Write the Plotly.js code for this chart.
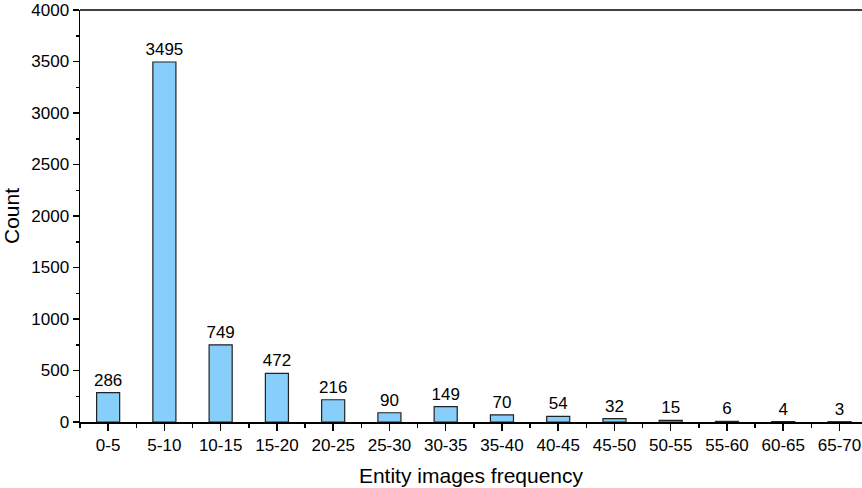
<!DOCTYPE html>
<html>
<head>
<meta charset="utf-8">
<script src="https://cdn.plot.ly/plotly-3.0.1.min.js"></script>
<style>html,body{margin:0;padding:0;background:#fff;}#chart{width:862px;height:488px;}</style>
</head>
<body>
<div id="chart"></div>
<script>
const categories = ["0-5","5-10","10-15","15-20","20-25","25-30","30-35","35-40","40-45","45-50","50-55","55-60","60-65","65-70"];
const counts = [286, 3495, 749, 472, 216, 90, 149, 70, 54, 32, 15, 6, 4, 3];
const yTicks = [0, 500, 1000, 1500, 2000, 2500, 3000, 3500, 4000];

const positions = categories.map((_, i) => i);
const font = "Liberation Sans, Arial, sans-serif";

const trace = {
  type: "bar",
  x: positions,
  y: counts,
  width: 0.41,
  marker: { color: "#87CEFA", line: { color: "#222", width: 1.2 } },
  text: counts.map(String),
  textposition: "outside",
  constraintext: "none",
  textfont: { family: font, size: 17, color: "#000" },
  cliponaxis: false,
  hoverinfo: "x+y"
};

const layout = {
  width: 862, height: 488,
  margin: { l: 80, r: 0, t: 10, b: 66 },
  paper_bgcolor: "#fff", plot_bgcolor: "#fff",
  showlegend: false,
  font: { family: font, size: 17, color: "#000" },
  xaxis: {
    type: "linear",
    range: [-0.5, 13.4],
    tickvals: positions,
    ticktext: categories,
    ticks: "outside", ticklen: 7, tickwidth: 1.5, tickcolor: "#000",
    minor: { tick0: 0.5, dtick: 1, ticks: "outside", ticklen: 4, tickwidth: 1.5, tickcolor: "#000", showgrid: false },
    showline: true, linecolor: "#000", linewidth: 1.5,
    showgrid: false, zeroline: false,
    tickfont: { family: font, size: 17, color: "#000" },
    title: { text: "Entity images frequency", font: { family: font, size: 21, color: "#000" }, standoff: 14 }
  },
  yaxis: {
    range: [0, 4000],
    tickvals: yTicks,
    ticks: "outside", ticklen: 6, tickwidth: 1.5, tickcolor: "#000",
    minor: { dtick: 250, ticks: "outside", ticklen: 3, tickwidth: 1.5, tickcolor: "#000", showgrid: false },
    showline: true, linecolor: "#000", linewidth: 1.5,
    showgrid: false, zeroline: false,
    tickfont: { family: font, size: 17, color: "#000" },
    title: { text: "Count", font: { family: font, size: 21, color: "#000" }, standoff: 6 }
  },
  shapes: [{ type: "line", xref: "paper", yref: "paper", x0: 0, x1: 1, y0: 1, y1: 1, line: { color: "#000", width: 1.5 } }]
};

Plotly.newPlot("chart", [trace], layout, { displayModeBar: false, staticPlot: true });
</script>
</body>
</html>
